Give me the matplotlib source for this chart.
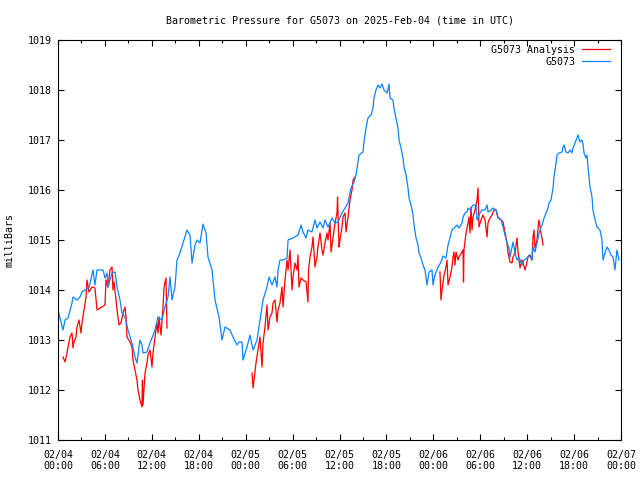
from datetime import datetime, timedelta

import numpy as np
import matplotlib

matplotlib.use("Agg")
import matplotlib.pyplot as plt
import matplotlib.dates as mdates

START = datetime(2025, 2, 4)
NaN = np.nan

# G5073 station pressure, hours since 02/04 00:00 UTC
blue_hours = [
    0.0, 0.64, 0.9, 1.28, 1.79, 1.92, 2.43, 2.81, 3.07, 3.45, 3.96, 4.48, 4.73,
    4.99, 5.76, 6.01, 6.27, 6.39, 6.91, 7.29, 7.55, 7.93, 8.18, 8.57, 8.95,
    9.46, 9.85, 10.1, 10.49, 10.74, 10.87, 11.38, 11.77, 12.41, 12.79, 13.3,
    13.68, 14.07, 14.32, 14.58, 14.96, 15.22, 15.6, 15.99, 16.5, 16.88, 17.14,
    17.52, 17.78, 18.16, 18.54, 18.93, 19.18, 19.7, 20.08, 20.59, 20.97, 21.36,
    22.0, 22.38, 22.89, 23.15, 23.53, 23.66, 24.17, 24.56, 24.94, 25.45, 25.83,
    26.22, 26.73, 26.99, 27.37, 27.75, 28.01, 28.14, 28.39, 28.78, 29.29,
    29.42, 30.05, 30.69, 31.08, 31.33, 31.72, 31.97, 32.48, 32.87, 33.12,
    33.51, 33.89, 34.15, 34.53, 35.04, 35.43, 35.81, 36.32, 36.71, 37.09,
    37.47, 37.86, 38.11, 38.37, 38.5, 39.01, 39.13, 39.39, 39.64, 40.03,
    40.28, 40.41, 40.67, 40.92, 41.18, 41.44, 41.69, 42.08, 42.33, 42.46,
    42.84, 42.97, 43.23, 43.48, 43.61, 43.87, 44.12, 44.25, 44.51, 44.76,
    44.89, 45.15, 45.4, 45.53, 45.79, 46.04, 46.17, 46.43, 46.68, 46.94,
    47.19, 47.45, 47.83, 47.96, 48.21, 48.6, 48.98, 49.24, 49.62, 49.88,
    50.39, 50.77, 51.03, 51.28, 51.67, 51.8, 52.05, 52.31, 52.44, 52.69,
    53.07, 53.46, 53.59, 53.97, 54.23, 54.61, 54.87, 54.99, 55.38, 55.63,
    56.02, 56.27, 56.66, 56.91, 57.17, 57.42, 57.68, 57.81, 58.19, 58.45,
    58.7, 58.96, 59.34, 59.6, 59.98, 60.24, 60.62, 60.75, 61.0, 61.26, 61.52,
    61.9, 62.16, 62.41, 62.67, 62.79, 63.05, 63.31, 63.43, 63.69, 63.82,
    64.07, 64.46, 64.58, 64.71, 64.97, 65.22, 65.48, 65.73, 65.86, 66.12,
    66.37, 66.5, 66.76, 67.01, 67.14, 67.27, 67.52, 67.65, 67.78, 68.04,
    68.29, 68.42, 68.68, 68.93, 69.31, 69.57, 69.7, 69.95, 70.21, 70.46,
    70.72, 70.97, 71.1, 71.23, 71.48, 71.74,
]
blue_mbar = [
    1013.6, 1013.2, 1013.4, 1013.44, 1013.74, 1013.86, 1013.8, 1013.86,
    1013.96, 1014.0, 1014.04, 1014.4, 1014.1, 1014.4, 1014.4, 1014.24,
    1014.34, 1014.06, 1014.34, 1014.36, 1014.06, 1013.8, 1013.54, 1013.46,
    1013.2, 1012.94, 1012.66, 1012.54, 1013.0, 1012.9, 1012.74, 1012.76,
    1012.94, 1013.2, 1013.46, 1013.4, 1013.66, 1013.86, 1014.26, 1013.8,
    1014.06, 1014.6, 1014.74, 1014.94, 1015.2, 1015.1, 1014.54, 1014.9,
    1015.0, 1014.94, 1015.32, 1015.14, 1014.66, 1014.4, 1013.8, 1013.46,
    1013.0, 1013.26, 1013.2, 1013.06, 1012.9, 1012.96, 1012.96, 1012.6,
    1012.86, 1013.1, 1012.8, 1013.0, 1013.4, 1013.8, 1014.06, 1014.26,
    1014.1, 1014.26, 1014.06, 1014.4, 1014.6, 1014.6, 1014.64, 1015.0,
    1015.04, 1015.1, 1015.3, 1015.16, 1015.04, 1015.2, 1015.16, 1015.4,
    1015.24, 1015.36, 1015.24, 1015.4, 1015.26, 1015.44, 1015.34, 1015.36,
    1015.54, 1015.64, 1015.74, 1016.04, 1016.16, 1016.3, 1016.56, 1016.7,
    1016.76, 1016.96, 1017.24, 1017.44, 1017.5, 1017.64, 1017.84, 1018.0,
    1018.1, 1018.04, 1018.12, 1018.0, 1017.94, 1018.12, 1017.84, 1017.8,
    1017.64, 1017.44, 1017.24, 1017.0, 1016.84, 1016.64, 1016.46, 1016.3,
    1016.04, 1015.84, 1015.7, 1015.5, 1015.3, 1015.04, 1014.9, 1014.74,
    1014.64, 1014.5, 1014.4, 1014.1, 1014.36, 1014.4, 1014.1, 1014.3,
    1014.46, 1014.56, 1014.68, 1014.64, 1014.9, 1015.2, 1015.26, 1015.3,
    1015.24, 1015.34, 1015.46, 1015.54, 1015.56, 1015.64, 1015.6, 1015.7,
    1015.7, 1015.4, 1015.54, 1015.6, 1015.6, 1015.7, 1015.56, 1015.6,
    1015.64, 1015.6, 1015.46, 1015.4, 1015.26, 1015.1, 1014.94, 1014.84,
    1014.66, 1014.96, 1014.74, 1014.6, 1014.66, 1014.5, 1014.6, 1014.64,
    1014.7, 1014.6, 1014.86, 1014.76, 1014.94, 1015.14, 1015.3, 1015.44,
    1015.54, 1015.64, 1015.74, 1015.8, 1016.04, 1016.26, 1016.54, 1016.7,
    1016.74, 1016.76, 1016.86, 1016.9, 1016.76, 1016.74, 1016.8, 1016.74,
    1016.84, 1016.94, 1017.04, 1017.1, 1016.96, 1017.0, 1016.92, 1016.74,
    1016.64, 1016.7, 1016.46, 1016.06, 1015.86, 1015.6, 1015.4, 1015.26,
    1015.2, 1015.0, 1014.6, 1014.74, 1014.86, 1014.8, 1014.7, 1014.66,
    1014.54, 1014.4, 1014.8, 1014.6,
]

# G5073 Analysis, NaN marks the gaps between the three runs
red_hours = [
    0.64, 0.9, 1.15, 1.28, 1.53, 1.79, 1.92, 2.05, 2.3, 2.43, 2.69, 2.94,
    3.07, 3.32, 3.58, 3.71, 3.96, 4.35, 4.73, 4.99, 6.01, 6.14, 6.39, 6.65,
    6.91, 7.03, 7.16, 7.42, 7.55, 7.8, 8.06, 8.31, 8.57, 8.7, 8.82, 9.21,
    9.46, 9.59, 9.85, 10.1, 10.23, 10.49, 10.74, 10.8, 10.87, 11.13, 11.38,
    11.51, 11.77, 12.02, 12.15, 12.41, 12.66, 12.79, 12.92, 13.17, 13.43,
    13.56, 13.81, 13.94,
    NaN,
    24.81, 24.94, 25.07, 25.32, 25.58, 25.83, 26.09, 26.22, 26.47, 26.73,
    26.86, 27.11, 27.37, 27.5, 27.75, 28.01, 28.14, 28.39, 28.65, 28.78,
    29.03, 29.29, 29.42, 29.67, 29.93, 30.05, 30.31, 30.56, 30.69, 30.82,
    31.08, 31.33, 31.72, 31.97, 32.04, 32.23, 32.48, 32.61, 32.87, 33.12,
    33.25, 33.51, 33.76, 33.89, 34.15, 34.4, 34.53, 34.79, 34.92, 35.17,
    35.43, 35.68, 35.75, 35.94, 36.06, 36.32, 36.45, 36.71, 36.83, 37.09,
    37.34, 37.6, 37.73, 37.98,
    NaN,
    48.85, 48.98, 49.11, 49.37, 49.62, 49.75, 49.88, 50.13, 50.39, 50.52,
    50.64, 50.77, 50.9, 51.16, 51.28, 51.67, 51.8, 51.86, 51.92, 52.18,
    52.44, 52.56, 52.69, 52.82, 52.95, 53.07, 53.33, 53.59, 53.71, 53.84,
    54.1, 54.35, 54.61, 54.87, 54.99, 55.12, 55.5, 55.76, 56.02, 56.27,
    56.66, 56.91, 57.17, 57.42, 57.55, 57.81, 58.06, 58.19, 58.45, 58.7,
    58.83, 58.96, 59.09, 59.34, 59.47, 59.73, 59.98, 60.11, 60.36, 60.62,
    60.75, 60.87, 61.0, 61.26, 61.39, 61.52, 61.77, 61.9, 62.03,
]
red_mbar = [
    1012.66, 1012.56, 1012.74, 1012.86, 1013.06, 1013.14, 1012.84, 1012.96,
    1013.06, 1013.26, 1013.4, 1013.14, 1013.34, 1013.6, 1013.86, 1014.2,
    1013.96, 1014.06, 1014.04, 1013.6, 1013.7, 1014.2, 1014.06, 1014.4,
    1014.46, 1014.0, 1014.16, 1013.8, 1013.6, 1013.3, 1013.34, 1013.54,
    1013.66, 1013.46, 1013.06, 1012.96, 1012.86, 1012.6, 1012.4, 1012.2,
    1012.0, 1011.8, 1011.66, 1012.2, 1011.7, 1012.34, 1012.54, 1012.7,
    1012.8, 1012.46, 1012.74, 1013.06, 1013.34, 1013.14, 1013.46, 1013.1,
    1013.66, 1014.06, 1014.24, 1013.24,
    NaN,
    1012.34, 1012.04, 1012.2, 1012.54, 1012.8, 1013.06, 1012.46, 1012.94,
    1013.26, 1013.7, 1013.2, 1013.46, 1013.54, 1013.74, 1013.8, 1013.36,
    1013.6, 1013.74, 1014.06, 1013.66, 1014.2, 1014.6, 1014.4, 1014.8,
    1014.0, 1014.26, 1014.54, 1014.4, 1014.7, 1014.06, 1014.24, 1014.2,
    1014.16, 1013.76, 1014.4, 1014.66, 1014.86, 1015.06, 1014.46, 1014.66,
    1014.86, 1015.14, 1014.8, 1014.7, 1014.94, 1015.14, 1015.0, 1015.34,
    1014.76, 1015.04, 1015.34, 1015.54, 1015.86, 1014.86, 1015.0, 1015.26,
    1015.46, 1015.54, 1015.16, 1015.46, 1015.8, 1016.0, 1016.2, 1016.26,
    NaN,
    1014.36, 1013.8, 1014.0, 1014.3, 1014.46, 1014.6, 1014.1, 1014.26,
    1014.46, 1014.66, 1014.76, 1014.5, 1014.76, 1014.6, 1014.66, 1014.76,
    1014.8, 1014.16, 1014.8, 1015.14, 1015.34, 1015.46, 1015.14, 1015.66,
    1015.2, 1015.46, 1015.6, 1015.8, 1016.04, 1015.26, 1015.4, 1015.5,
    1015.4, 1015.06, 1015.34, 1015.4, 1015.5, 1015.6, 1015.6, 1015.44,
    1015.4, 1015.36, 1015.14, 1014.94, 1014.74, 1014.56, 1014.54, 1014.66,
    1014.74, 1015.04, 1014.76, 1014.6, 1014.44, 1014.6, 1014.54, 1014.4,
    1014.56, 1014.66, 1014.7, 1014.6, 1015.06, 1015.2, 1014.84, 1015.0,
    1015.24, 1015.4, 1015.14, 1015.04, 1014.9,
]


def to_times(hours):
    """Hours since START -> datetime64, NaN hours become NaT (line gaps)."""
    return np.array([np.datetime64(START + timedelta(hours=float(h)))
                     if np.isfinite(h) else np.datetime64("NaT")
                     for h in hours], dtype="datetime64[s]")


def main():
    plt.rcParams["font.family"] = ["DejaVu Sans Mono"]
    plt.rcParams["font.size"] = 7.2

    fig = plt.figure(figsize=(6.4, 4.8), dpi=100, facecolor="white")
    ax = fig.add_axes([58 / 640, 40 / 480, 563 / 640, 400 / 480])

    ax.plot(to_times(red_hours), np.array(red_mbar), color="#ff0000",
            lw=0.9, label="G5073 Analysis")
    ax.plot(to_times(blue_hours), np.array(blue_mbar), color="#0a84ff",
            lw=0.9, label="G5073")

    ax.set_xlim(START, START + timedelta(days=3))
    ax.set_ylim(1011, 1019)
    ax.set_yticks(range(1011, 1020))
    ax.xaxis.set_major_locator(mdates.HourLocator(byhour=range(0, 24, 6)))
    ax.xaxis.set_minor_locator(mdates.HourLocator(byhour=range(0, 24, 3)))
    ax.xaxis.set_major_formatter(mdates.DateFormatter("%m/%d\n%H:%M"))
    ax.tick_params(which="both", direction="in", top=True, right=True,
                   width=0.8, colors="black")
    ax.tick_params(which="major", length=4.5)
    ax.tick_params(which="minor", length=2.5)
    ax.tick_params(axis="x", pad=7)
    ax.tick_params(axis="y", pad=4.5)
    for sp in ax.spines.values():
        sp.set_linewidth(0.8)

    ax.set_title("Barometric Pressure for G5073 on 2025-Feb-04 (time in UTC)",
                 pad=12, fontsize=7.2)
    fig.text(10 / 640, 0.5, "milliBars", rotation=90, ha="center",
             va="center")

    # gnuplot-style key: right-justified text, sample line on the right
    ax.legend(loc="upper right", bbox_to_anchor=(1 - 9 / 563, 1 - 3 / 400),
              frameon=False, markerfirst=False, handlelength=2.8,
              handletextpad=0.7, borderaxespad=0, labelspacing=0.2,
              borderpad=0.2)

    fig.savefig("out.png", dpi=100)
    plt.close(fig)


if __name__ == "__main__":
    main()
